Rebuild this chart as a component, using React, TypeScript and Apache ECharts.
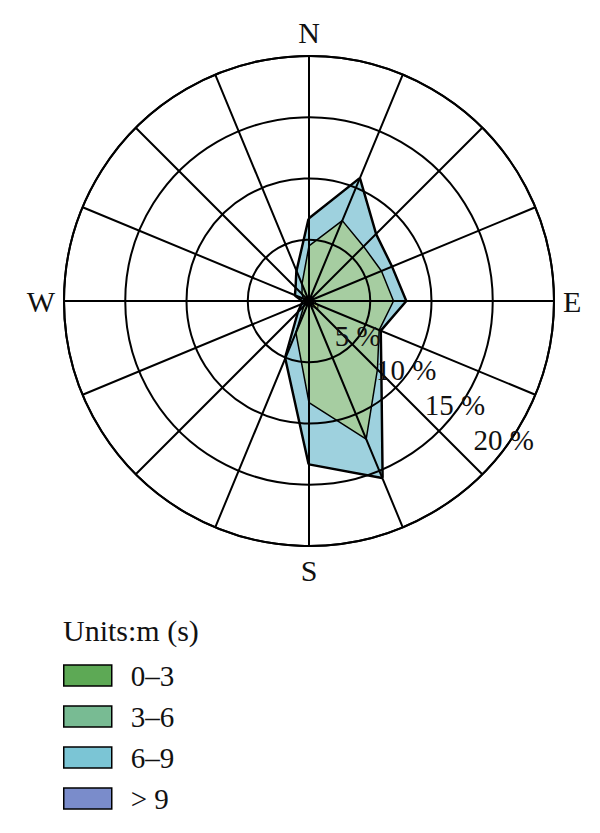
import React, { useEffect, useRef } from "react";
import * as echarts from "echarts";

// 16 wind directions, clockwise from North
const directions = ["N", "NNE", "NE", "ENE", "E", "ESE", "SE", "SSE", "S", "SSW", "SW", "WSW", "W", "WNW", "NW", "NNW"];
const directionAngles = [0, 22.5, 45, 67.5, 90, 112.5, 135, 157.5, 180, 202.5, 225, 247.5, 270, 292.5, 315, 337.5];
const compassLabels: Record<number, string> = { 0: "N", 90: "E", 180: "S", 270: "W" };
const ringTicks = [5, 10, 15, 20];

// cumulative frequency (%) of wind up to each class upper bound
const cumUpTo3 = [0.2, 0.2, 0.3, 0.3, 0.4, 0.8, 1.0, 0.4, 0.3, 0.2, 0.2, 0.1, 0.1, 0.1, 0.1, 0.2];
const cumUpTo6 = [4.5, 7.1, 6.3, 6.4, 6.9, 6.2, 7.9, 12.2, 8.3, 2.8, 0.6, 0.4, 0.3, 0.5, 0.8, 1.5];
const cumUpTo9 = [6.7, 10.8, 7.7, 7.3, 7.9, 6.3, 8.3, 15.6, 13.3, 5.0, 1.2, 0.6, 0.5, 1.2, 1.5, 2.6];
const cumAll = [6.7, 10.8, 7.7, 7.3, 7.9, 6.3, 8.3, 15.6, 13.3, 5.0, 1.2, 0.6, 0.5, 1.2, 1.5, 2.6];

const classNames = ["0–3", "3–6", "6–9", "> 9"];
const legendColors = ["#5da955", "#78bb93", "#7bc5d5", "#7a8ccb"];
const fillColors = ["#b9d77e", "#a6cda1", "#9ed1de", "#7a8ccb"];

const FONT = "Liberation Serif";

function closedRing(vals: number[]) {
  const pts = vals.map((v, i) => [v, directionAngles[i]]);
  pts.push([vals[0], 360]);
  return pts;
}

export default function App() {
  const ref = useRef<HTMLDivElement>(null);
  useEffect(() => {
    if (!ref.current) return;
    const chart = echarts.init(ref.current, null, { renderer: "svg" });
    const center = [309, 301];
    const radius = 245;
    const layers = [cumAll, cumUpTo9, cumUpTo6, cumUpTo3];
    const layerIdx = [3, 2, 1, 0];
    const widths = [3.4, 1.5, 1.5, 1];
    const series = layers.map((vals, k) => {
      const ci = layerIdx[k];
      return {
        type: "line",
        name: classNames[ci],
        coordinateSystem: "polar",
        polarIndex: 0,
        data: closedRing(vals),
        symbol: "none",
        smooth: false,
        silent: true,
        lineStyle: { color: "#000", width: widths[k] },
        itemStyle: { color: legendColors[ci] },
        areaStyle: { color: fillColors[ci], opacity: 1 },
        z: 2 + k,
      };
    });
    chart.setOption({
      animation: false,
      backgroundColor: "#fff",
      title: {
        text: "Units:m (s)",
        left: 58,
        top: 610,
        textStyle: { fontFamily: FONT, fontSize: 30, fontWeight: "normal", color: "#111" },
      },
      legend: {
        orient: "vertical",
        left: 58,
        top: 656,
        height: 170,
        icon: "rect",
        itemWidth: 48,
        itemHeight: 21,
        itemGap: 12,
        selectedMode: false,
        itemStyle: { borderColor: "#000", borderWidth: 1.5 },
        textStyle: { fontFamily: FONT, fontSize: 29, color: "#111", padding: [0, 0, 0, 14] },
        data: classNames.map((n, i) => ({ name: n, itemStyle: { color: legendColors[i], borderColor: "#000", borderWidth: 1.5 } })),
      },
      polar: [
        { center, radius },
        { center, radius },
      ],
      angleAxis: [
        {
          polarIndex: 0,
          type: "value",
          min: 0,
          max: 360,
          interval: 22.5,
          startAngle: 90,
          clockwise: true,
          z: 10,
          axisLine: { show: true, lineStyle: { color: "#000", width: 2 } },
          axisTick: { show: false },
          splitLine: { show: true, lineStyle: { color: "#000", width: 2 } },
          axisLabel: {
            margin: 9,
            fontFamily: FONT,
            fontSize: 30,
            color: "#111",
            formatter: (v: number) => compassLabels[v] || "",
          },
        },
        {
          polarIndex: 1,
          type: "value",
          min: 0,
          max: 360,
          startAngle: -35.5,
          show: false,
        },
      ],
      radiusAxis: [
        {
          polarIndex: 0,
          type: "value",
          min: 0,
          max: 20,
          interval: 5,
          z: 10,
          axisLine: { show: false },
          axisTick: { show: false },
          axisLabel: { show: false },
          splitLine: { show: true, lineStyle: { color: "#000", width: 2 } },
        },
        {
          polarIndex: 1,
          type: "value",
          min: 0,
          max: 20.5,
          interval: 5,
          z: 11,
          axisLine: { show: false },
          axisTick: { show: false },
          splitLine: { show: false },
          axisLabel: {
            margin: 0,
            align: "center",
            verticalAlign: "middle",
            fontFamily: FONT,
            fontSize: 29,
            color: "#111",
            formatter: (v: number) => (ringTicks.indexOf(v) >= 0 ? v + " %" : ""),
          },
        },
      ],
      series,
    });
    return () => chart.dispose();
  }, []);
  return <div ref={ref} style={{ position: "fixed", left: 0, top: 0, width: 600, height: 833 }} />;
}
